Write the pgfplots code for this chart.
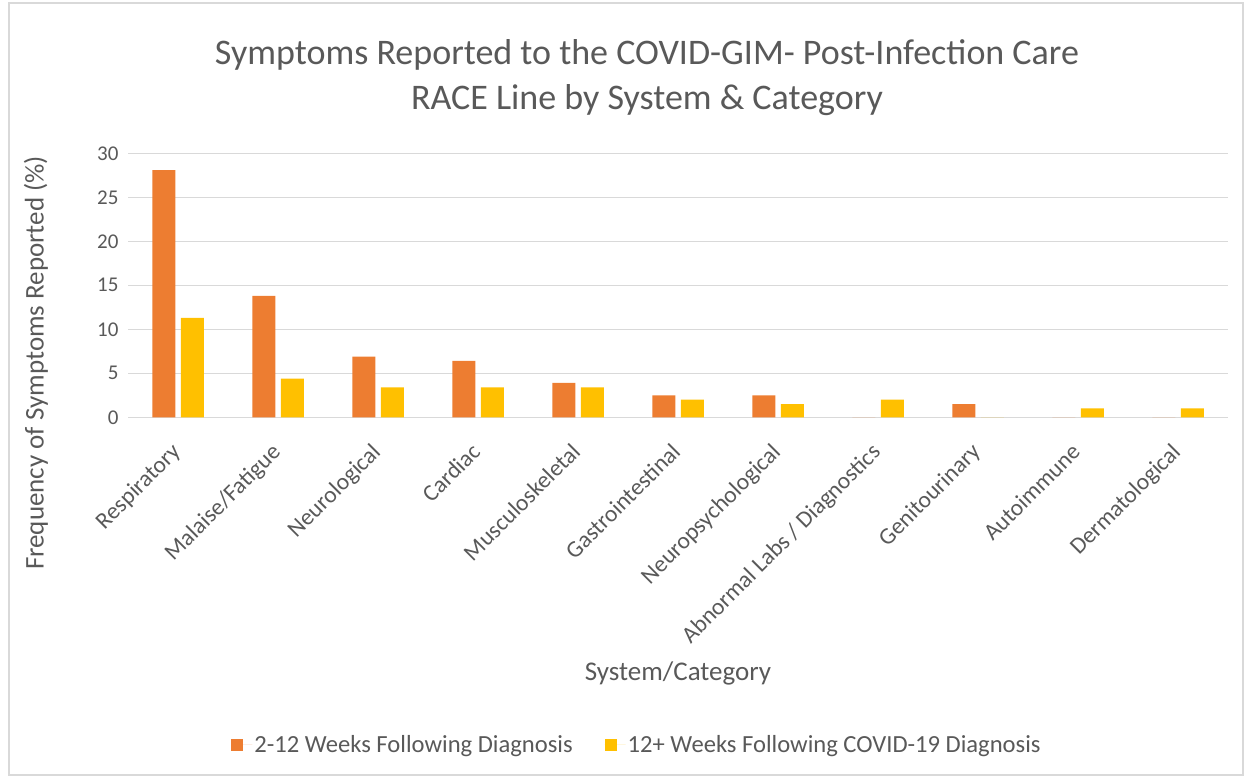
\documentclass[border=0pt]{standalone}
\usepackage{pgfplots}
\pgfplotsset{compat=1.18}
\usepackage{fontspec}
\setmainfont{Carlito}
\definecolor{txt}{HTML}{595959}
\definecolor{gridc}{HTML}{D9D9D9}
\definecolor{orng}{HTML}{ED7D31}
\definecolor{yel}{HTML}{FFC000}
\begin{document}
\begin{tikzpicture}[x=1bp,y=1bp]
\useasboundingbox (0,0) rectangle (1246,778);
\draw[gridc, line width=1.2bp] (9,3) rectangle (1243,775);
\begin{axis}[
  at={(128bp,360.7bp)}, anchor=south west,
  scale only axis, width=1100bp, height=264bp,
  ymin=0, ymax=30, ytick={0,5,...,30},
  xmin=-0.5, xmax=10.5, xtick={0,...,10},
  xticklabels={Respiratory,Malaise/Fatigue,Neurological,Cardiac,Musculoskeletal,Gastrointestinal,Neuropsychological,Abnormal Labs / Diagnostics,Genitourinary,Autoimmune,Dermatological},
  ybar=5.5bp, bar width=23bp,
  axis lines*=left,
  y axis line style={draw=none},
  x axis line style={draw=gridc, line width=1.3bp},
  major tick length=0pt,
  ymajorgrids, grid style={draw=gridc, line width=1.3bp},
  /pgf/number format/assume math mode=true,
  yticklabel style={font=\fontsize{21bp}{23bp}\selectfont, text=txt, xshift=-6bp},
  xticklabel style={rotate=45, anchor=north east, font=\fontsize{23.5bp}{26bp}\selectfont, text=txt, inner sep=1bp, xshift=-21.8bp, yshift=-10.6bp},
  ylabel={Frequency of Symptoms Reported (\%)},
  xlabel={System/Category},
  every axis y label/.style={at={(axis description cs:-0.0836,0.206)}, rotate=90, anchor=center, font=\fontsize{27bp}{30bp}\selectfont, text=txt},
  every axis x label/.style={at={(axis description cs:0.5,-0.9686)}, anchor=center, font=\fontsize{27bp}{30bp}\selectfont, text=txt},
  legend columns=2,
  legend style={draw=none, at={(axis description cs:0.4627,-1.241)}, anchor=center, font=\fontsize{24.6bp}{27bp}\selectfont, text=txt, /tikz/every even column/.append style={column sep=30bp}},
  legend image code/.code={\fill[#1] (0bp,-6bp) rectangle (12bp,6bp); \path (0bp,0bp) -- (21bp,0bp);},
]
\addplot[fill=orng, draw=none] coordinates {(0,28.1) (1,13.8) (2,6.9) (3,6.4) (4,3.9) (5,2.5) (6,2.5) (7,0) (8,1.5) (9,0) (10,0)};
\addplot[fill=yel, draw=none] coordinates {(0,11.3) (1,4.4) (2,3.4) (3,3.4) (4,3.4) (5,2.0) (6,1.5) (7,2.0) (8,0) (9,1.0) (10,1.0)};
\legend{2-12 Weeks Following Diagnosis, 12+ Weeks Following COVID-19 Diagnosis}
\end{axis}
\node[text=txt, font=\fontsize{36bp}{45bp}\selectfont, align=center] at (647,700.5) {Symptoms Reported to the COVID-GIM- Post-Infection Care\\RACE Line by System \& Category};
\end{tikzpicture}
\end{document}
